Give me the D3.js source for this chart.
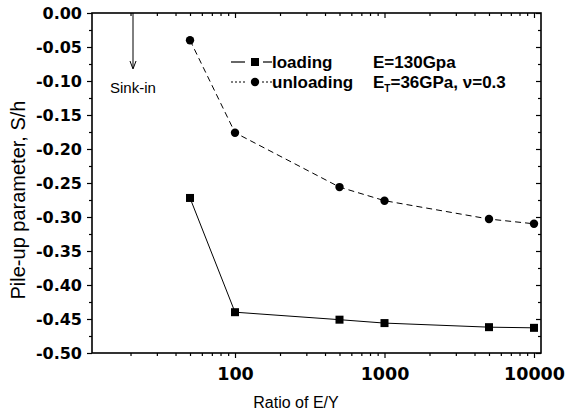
<!DOCTYPE html>
<html>
<head>
<meta charset="utf-8">
<script src="https://cdn.jsdelivr.net/npm/d3@7"></script>
<style>
  html, body { margin: 0; padding: 0; background: #fff; }
  svg { display: block; }
</style>
</head>
<body>
<svg id="chart" width="573" height="413"></svg>
<script>
// ---- data ----
const ratioEY   = [50, 100, 500, 1000, 5000, 10000];
const loading   = [-0.272, -0.440, -0.451, -0.456, -0.462, -0.463];
const unloading = [-0.040, -0.176, -0.256, -0.276, -0.303, -0.310];
const xTickValues = [100, 1000, 10000];
const xTickLabels = ["100", "1000", "10000"];
const yTickValues = [0, -0.05, -0.10, -0.15, -0.20, -0.25, -0.30, -0.35, -0.40, -0.45, -0.50];
const yTickLabels = ["0.00", "-0.05", "-0.10", "-0.15", "-0.20", "-0.25", "-0.30", "-0.35", "-0.40", "-0.45", "-0.50"];
const legendLabels = ["loading", "unloading"];
const xTitle = "Ratio of E/Y";
const yTitle = "Pile-up parameter, S/h";
const annotation = "Sink-in";

// ---- layout ----
const L = 92, R = 541, T = 13, B = 353;
const svg = d3.select("#chart");

const x = d3.scaleLog().domain([11.05, 11140]).range([L, R]);
const y = d3.scaleLinear().domain([-0.5, 0]).range([B, T]);

const xMinor = [];
[10, 100, 1000].forEach(d => { for (let k = 2; k <= 9; k++) { const v = d * k; if (v >= 11.05 && v <= 11140) xMinor.push(v); } });
const yMinor = d3.range(0, 10).map(i => -0.025 - i * 0.05);

const fmtX = d => xTickLabels[xTickValues.indexOf(d)] || "";
const fmtY = d => { const i = yTickValues.findIndex(v => Math.abs(v - d) < 1e-9); return i >= 0 ? yTickLabels[i] : ""; };

const tickFont = "'DejaVu Sans', sans-serif";
const textFont = "'Liberation Sans', Arial, sans-serif";

// bottom axis (ticks outward)
const gB = svg.append("g").attr("transform", `translate(0,${B})`);
gB.call(d3.axisBottom(x).tickValues(xTickValues).tickFormat(fmtX).tickSize(5).tickPadding(10));
gB.append("g").call(d3.axisBottom(x).tickValues(xMinor).tickFormat("").tickSize(3));
// top axis (ticks inward)
const gT = svg.append("g").attr("transform", `translate(0,${T})`);
gT.call(d3.axisBottom(x).tickValues(xTickValues).tickFormat("").tickSize(5));
gT.append("g").call(d3.axisBottom(x).tickValues(xMinor).tickFormat("").tickSize(3));
// left axis (ticks outward)
const gL = svg.append("g").attr("transform", `translate(${L},0)`);
gL.call(d3.axisLeft(y).tickValues(yTickValues).tickFormat(fmtY).tickSize(5).tickPadding(5));
gL.append("g").call(d3.axisLeft(y).tickValues(yMinor).tickFormat("").tickSize(3));
// right axis (ticks inward)
const gR = svg.append("g").attr("transform", `translate(${R},0)`);
gR.call(d3.axisLeft(y).tickValues(yTickValues).tickFormat("").tickSize(5));
gR.append("g").call(d3.axisLeft(y).tickValues(yMinor).tickFormat("").tickSize(3));

svg.selectAll(".domain").remove();
svg.selectAll(".tick line").attr("stroke", "#000").attr("stroke-width", 1.2);
gB.selectAll(".tick text").attr("font-family", tickFont).attr("font-weight", "bold").attr("font-size", "17.5px").attr("fill", "#000");
gL.selectAll(".tick text").attr("font-family", tickFont).attr("font-weight", "bold").attr("font-size", "16px").attr("fill", "#000");

// frame
svg.append("rect").attr("x", L).attr("y", T).attr("width", R - L).attr("height", B - T)
  .attr("fill", "none").attr("stroke", "#000").attr("stroke-width", 1.6);

// axis titles
svg.append("text").attr("x", 296).attr("y", 408).attr("text-anchor", "middle")
  .attr("font-family", textFont).attr("font-size", "16px").text(xTitle);
svg.append("text").attr("transform", "translate(25,200) rotate(-90)").attr("text-anchor", "middle")
  .attr("font-family", textFont).attr("font-size", "20px").text(yTitle);

// series
const pts = (vals) => ratioEY.map((r, i) => [x(r), y(vals[i])]);
const line = d3.line();
svg.append("path").attr("d", line(pts(loading))).attr("fill", "none").attr("stroke", "#000").attr("stroke-width", 1);
svg.append("path").attr("d", line(pts(unloading))).attr("fill", "none").attr("stroke", "#000").attr("stroke-width", 1)
  .attr("stroke-dasharray", "6,4");

svg.append("g").selectAll("rect").data(pts(loading)).join("rect")
  .attr("x", d => d[0] - 4).attr("y", d => d[1] - 4).attr("width", 8).attr("height", 8).attr("fill", "#000");
svg.append("g").selectAll("circle").data(pts(unloading)).join("circle")
  .attr("cx", d => d[0]).attr("cy", d => d[1]).attr("r", 4.2).attr("fill", "#000");

// legend
const lg = svg.append("g").attr("font-family", textFont).attr("font-size", "17px").attr("font-weight", "bold");
lg.append("line").attr("x1", 231).attr("x2", 245).attr("y1", 62).attr("y2", 62).attr("stroke", "#000").attr("stroke-width", 1.2);
lg.append("line").attr("x1", 263).attr("x2", 272).attr("y1", 62).attr("y2", 62).attr("stroke", "#000").attr("stroke-width", 1.2);
lg.append("rect").attr("x", 251).attr("y", 58).attr("width", 8).attr("height", 8).attr("fill", "#000");
lg.append("text").attr("x", 272).attr("y", 68).text(legendLabels[0]);
lg.append("text").attr("x", 373).attr("y", 68).text("E=130Gpa");

lg.append("line").attr("x1", 231).attr("x2", 246).attr("y1", 82).attr("y2", 82).attr("stroke", "#000").attr("stroke-width", 1.2).attr("stroke-dasharray", "2,2");
lg.append("line").attr("x1", 262).attr("x2", 272).attr("y1", 82).attr("y2", 82).attr("stroke", "#000").attr("stroke-width", 1.2).attr("stroke-dasharray", "2,2");
lg.append("circle").attr("cx", 255).attr("cy", 82).attr("r", 4.2).attr("fill", "#000");
lg.append("text").attr("x", 272).attr("y", 88).text(legendLabels[1]);
const t2 = lg.append("text").attr("x", 373).attr("y", 88);
t2.append("tspan").text("E");
t2.append("tspan").attr("font-size", "10px").attr("dy", 4).text("T");
t2.append("tspan").attr("dy", -4).text("=36GPa, ν=0.3");

// annotation: Sink-in arrow
svg.append("line").attr("x1", 133).attr("x2", 133).attr("y1", T).attr("y2", 68).attr("stroke", "#000").attr("stroke-width", 1);
svg.append("path").attr("d", "M130,61 L133,69 L136,61").attr("fill", "none").attr("stroke", "#000").attr("stroke-width", 1);
svg.append("text").attr("x", 110).attr("y", 93).attr("font-family", textFont).attr("font-size", "15px").text(annotation);
</script>
</body>
</html>
